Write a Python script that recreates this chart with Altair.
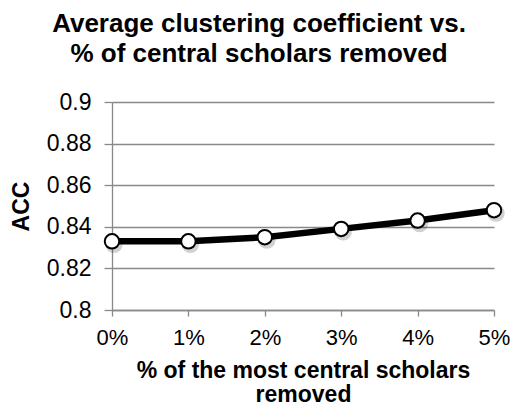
import altair as alt
import pandas as pd

categories = ["0%", "1%", "2%", "3%", "4%", "5%"]
acc_values = [0.833, 0.833, 0.835, 0.839, 0.843, 0.848]
y_ticks = [0.8, 0.82, 0.84, 0.86, 0.88, 0.9]

df = pd.DataFrame({"pct": categories, "acc": acc_values})

FONT = "Liberation Sans"
GRAY = "#898989"

x_enc = alt.X(
    "pct:O",
    sort=categories,
    scale=alt.Scale(type="point", padding=0),
    axis=alt.Axis(
        title=["% of the most central scholars", "removed"],
        titleFont=FONT, titleFontSize=23, titleFontWeight="bold", titleColor="black",
        titleLineHeight=24, titlePadding=11,
        labelFont=FONT, labelFontSize=22, labelColor="black", labelAngle=0,
        labelPadding=11,
        tickSize=6, tickColor=GRAY, domainColor=GRAY, tickWidth=1.3, domainWidth=1.3,
        grid=False,
    ),
)
y_enc = alt.Y(
    "acc:Q",
    scale=alt.Scale(domain=[0.8, 0.9], nice=False, zero=False),
    axis=alt.Axis(
        title="ACC", titleFont=FONT, titleFontSize=23, titleFontWeight="bold",
        titleColor="black", titlePadding=13,
        values=y_ticks, format=".2~f",
        labelFont=FONT, labelFontSize=23, labelColor="black", labelPadding=13,
        tickSize=8, tickColor=GRAY, domainColor=GRAY, tickWidth=1.3, domainWidth=1.3,
        grid=True, gridColor=GRAY, gridWidth=1.3,
    ),
)

shadow = alt.Chart(df).mark_point(
    shape="circle", filled=True, fill="#000000", opacity=0.18,
    size=300, xOffset=2, yOffset=3, strokeWidth=0,
).encode(x=x_enc, y=y_enc)
line = alt.Chart(df).mark_line(color="black", strokeWidth=6.5).encode(x=x_enc, y=y_enc)
points = alt.Chart(df).mark_point(
    shape="circle", filled=True, fill="white", stroke="black", strokeWidth=2,
    size=210, opacity=1,
).encode(x=x_enc, y=y_enc)

chart = (
    alt.layer(line, shadow, points)
    .properties(
        width=382, height=208,
        title=alt.Title(
            ["Average clustering coefficient vs.", "% of central scholars removed"],
            font=FONT, fontSize=26, fontWeight="bold", color="black",
            anchor="middle", dx=-44, lineHeight=30, offset=24,
        ),
        autosize=alt.AutoSizeParams(type="none"),
        padding={"left": 104, "top": 94, "right": 17, "bottom": 95},
    )
    .configure_view(stroke=None)
)

chart.save("out.html", embed_options={"renderer": "svg", "actions": False})
